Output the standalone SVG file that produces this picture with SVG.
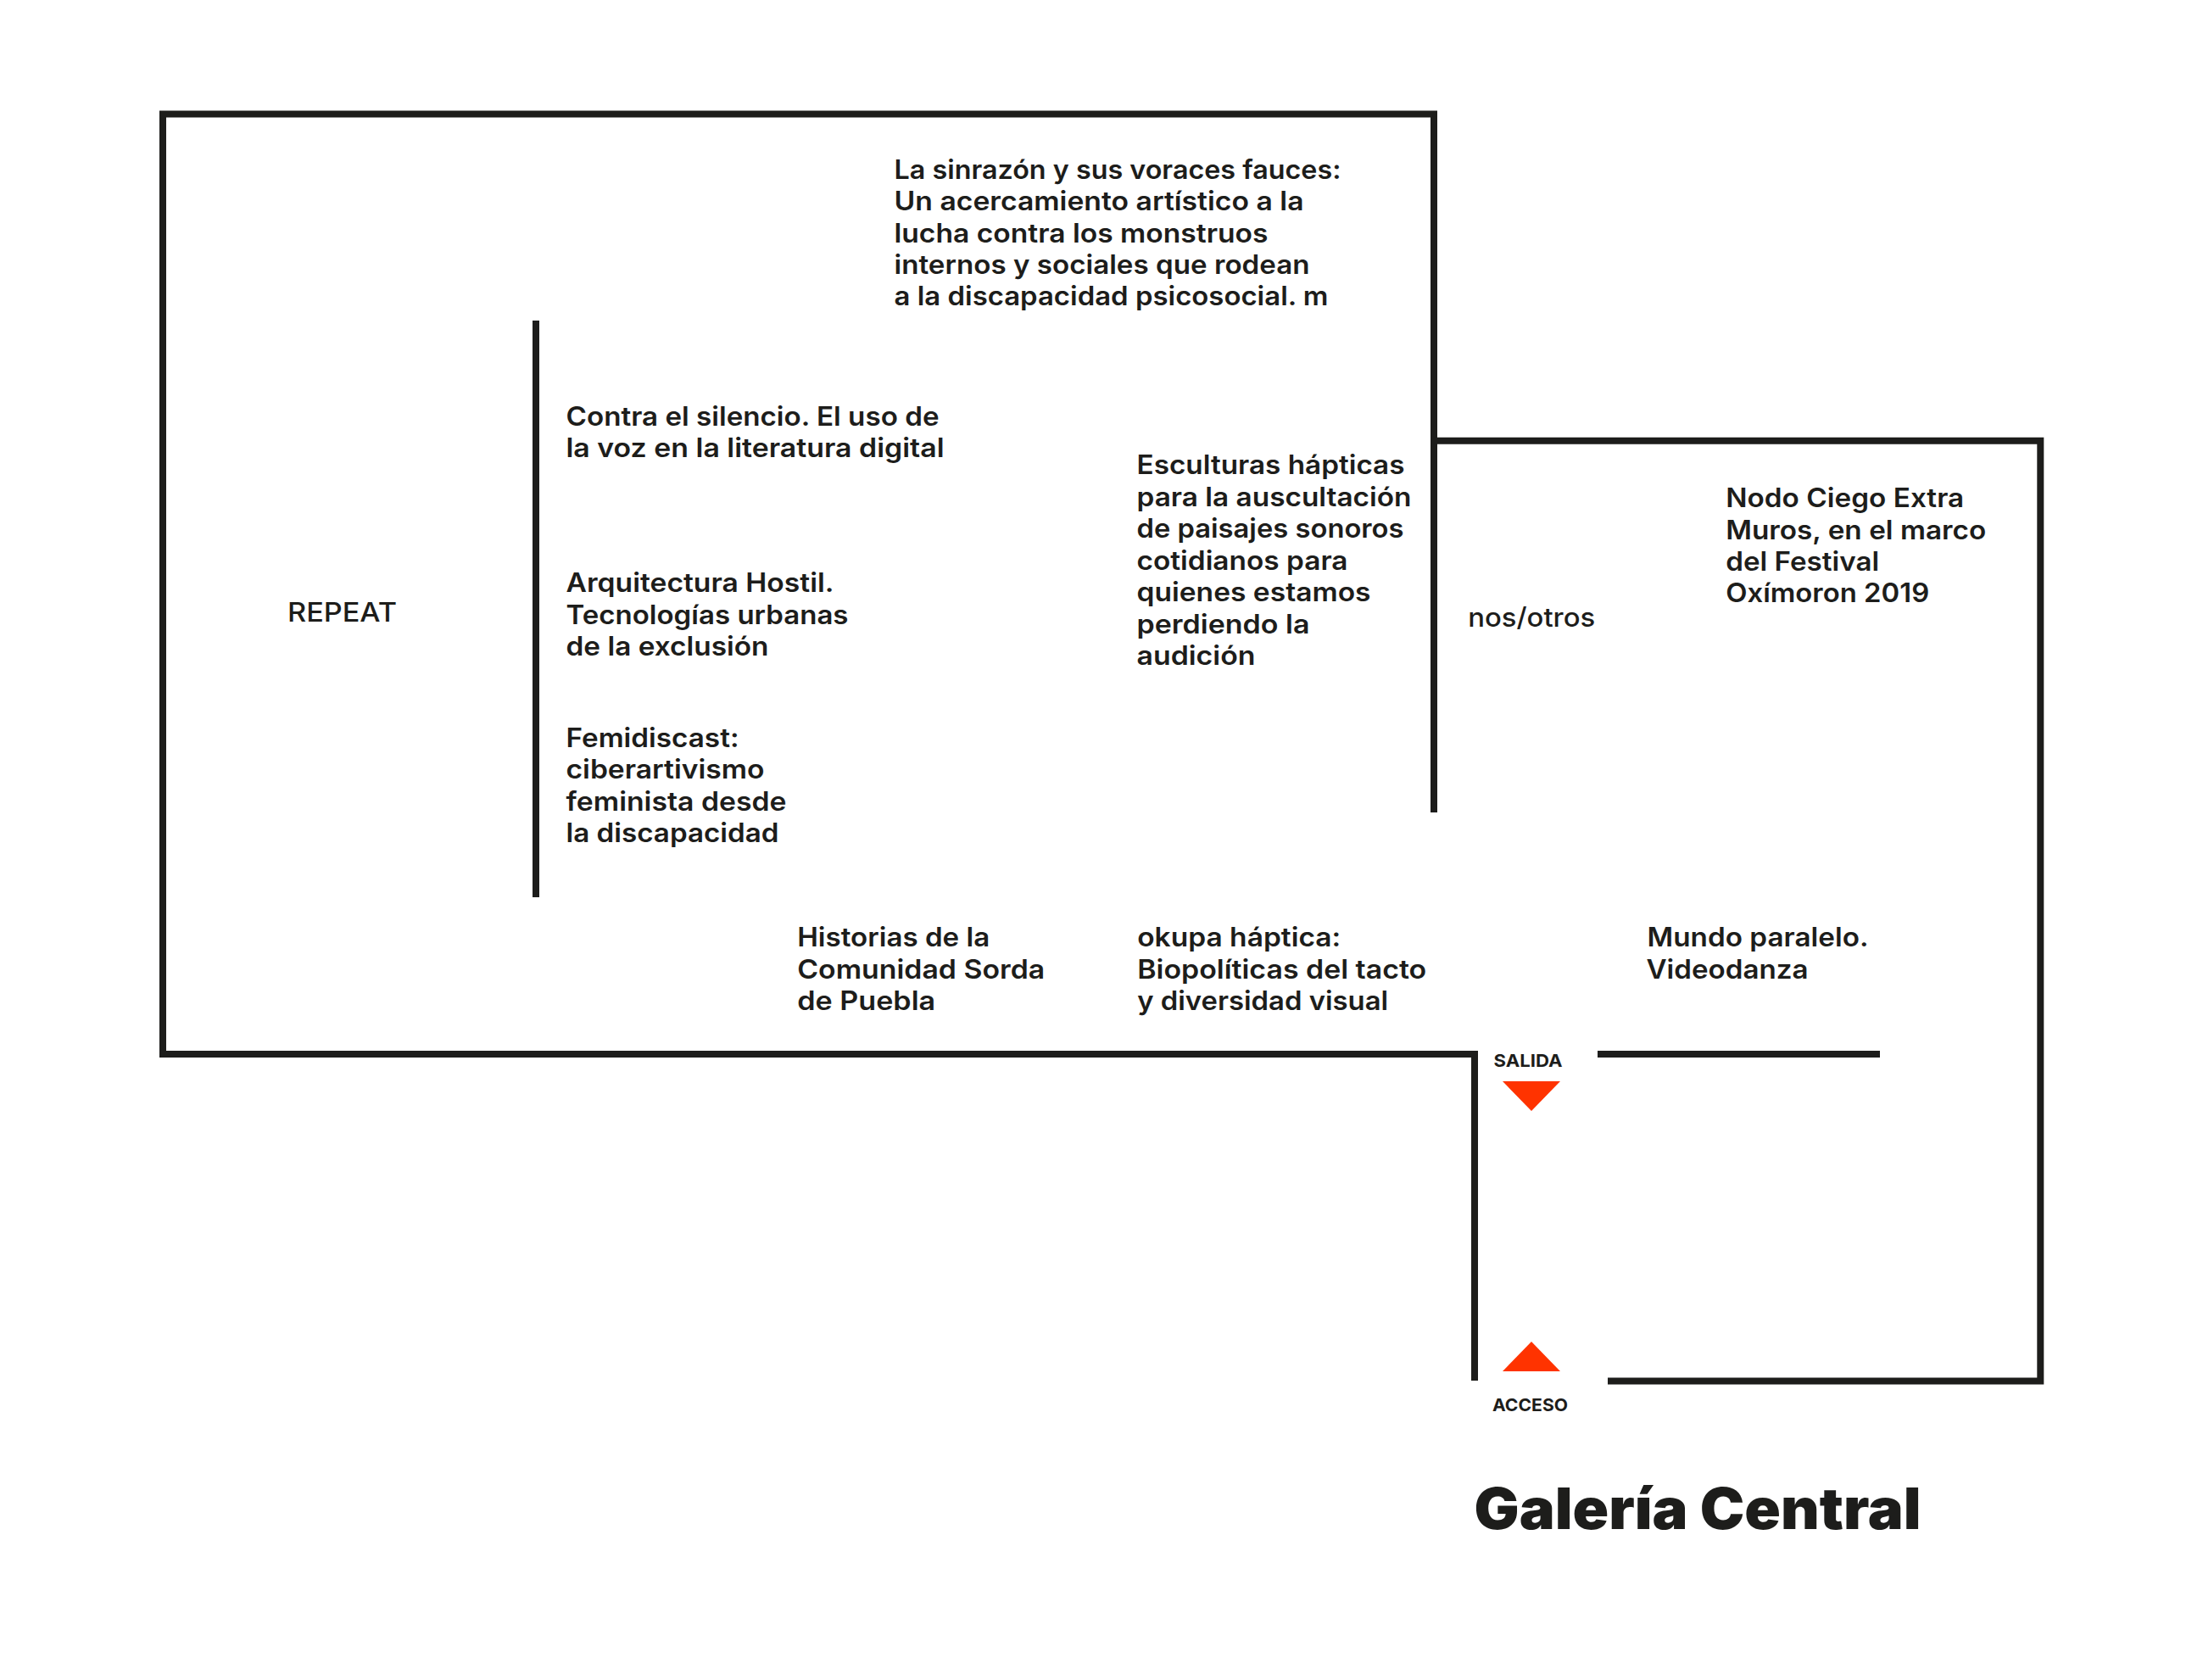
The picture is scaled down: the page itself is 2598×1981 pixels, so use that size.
<svg xmlns="http://www.w3.org/2000/svg" width="2598" height="1981" viewBox="0 0 2598 1981">
<style>
.w{fill:none;stroke:#1d1d1b;stroke-width:8;stroke-linejoin:miter;stroke-linecap:butt}
text{font-family:"Inter","Liberation Sans",sans-serif;fill:#1d1d1b}
.t{font-size:31px;font-weight:600}
.m{font-size:31px;font-weight:500}
.s{font-size:20.5px;font-weight:700}
.h{font-size:67px;font-weight:900}
.a{fill:#ff3300}
</style>
<rect width="2598" height="1981" fill="#ffffff"/>
<g id="walls">
<path class="w" d="M1691,958V134.5H192V1243H1739V1628"/>
<path class="w" d="M1691,519.7H2406.3V1628.5H1896"/>
<path class="w" d="M1884,1243H2217"/>
<path class="w" d="M632,378V1058"/>
</g>
<g id="la-sinrazon">
<text class="t" x="1054.5" y="210.7" textLength="527" lengthAdjust="spacingAndGlyphs">La sinrazón y sus voraces fauces:</text>
<text class="t" x="1054.5" y="248" textLength="483" lengthAdjust="spacingAndGlyphs">Un acercamiento artístico a la</text>
<text class="t" x="1054.5" y="285.8" textLength="441" lengthAdjust="spacingAndGlyphs">lucha contra los monstruos</text>
<text class="t" x="1054.5" y="323" textLength="490" lengthAdjust="spacingAndGlyphs">internos y sociales que rodean</text>
<text class="t" x="1054.5" y="360.4" textLength="512" lengthAdjust="spacingAndGlyphs">a la discapacidad psicosocial. m</text>
</g>
<g id="contra-el-silencio">
<text class="t" x="667.5" y="501.7" textLength="440" lengthAdjust="spacingAndGlyphs">Contra el silencio. El uso de</text>
<text class="t" x="667.5" y="539" textLength="446" lengthAdjust="spacingAndGlyphs">la voz en la literatura digital</text>
</g>
<g id="arquitectura-hostil">
<text class="t" x="667.5" y="698.3" textLength="316" lengthAdjust="spacingAndGlyphs">Arquitectura Hostil.</text>
<text class="t" x="667.5" y="735.7" textLength="333" lengthAdjust="spacingAndGlyphs">Tecnologías urbanas</text>
<text class="t" x="667.5" y="773" textLength="239" lengthAdjust="spacingAndGlyphs">de la exclusión</text>
</g>
<g id="femidiscast">
<text class="t" x="667.5" y="881" textLength="204" lengthAdjust="spacingAndGlyphs">Femidiscast:</text>
<text class="t" x="667.5" y="918.3" textLength="234" lengthAdjust="spacingAndGlyphs">ciberartivismo</text>
<text class="t" x="667.5" y="955.7" textLength="260" lengthAdjust="spacingAndGlyphs">feminista desde</text>
<text class="t" x="667.5" y="993" textLength="251" lengthAdjust="spacingAndGlyphs">la discapacidad</text>
</g>
<g id="esculturas-hapticas">
<text class="t" x="1340.5" y="559.3" textLength="316" lengthAdjust="spacingAndGlyphs">Esculturas hápticas</text>
<text class="t" x="1340.5" y="596.7" textLength="324" lengthAdjust="spacingAndGlyphs">para la auscultación</text>
<text class="t" x="1340.5" y="634.2" textLength="315" lengthAdjust="spacingAndGlyphs">de paisajes sonoros</text>
<text class="t" x="1340.5" y="671.6" textLength="249" lengthAdjust="spacingAndGlyphs">cotidianos para</text>
<text class="t" x="1340.5" y="709" textLength="276" lengthAdjust="spacingAndGlyphs">quienes estamos</text>
<text class="t" x="1340.5" y="746.6" textLength="204" lengthAdjust="spacingAndGlyphs">perdiendo la</text>
<text class="t" x="1340.5" y="783.8" textLength="140" lengthAdjust="spacingAndGlyphs">audición</text>
</g>
<g id="nodo-ciego">
<text class="t" x="2035.2" y="597.7" textLength="281" lengthAdjust="spacingAndGlyphs">Nodo Ciego Extra</text>
<text class="t" x="2035.2" y="635.5" textLength="307" lengthAdjust="spacingAndGlyphs">Muros, en el marco</text>
<text class="t" x="2035.2" y="672.8" textLength="181" lengthAdjust="spacingAndGlyphs">del Festival</text>
<text class="t" x="2035.2" y="710.4" textLength="240" lengthAdjust="spacingAndGlyphs">Oxímoron 2019</text>
</g>
<g id="nos-otros">
<text class="m" x="1731.2" y="739.3" textLength="150" lengthAdjust="spacingAndGlyphs">nos/otros</text>
</g>
<g id="repeat">
<text class="m" x="339" y="733.3" textLength="129" lengthAdjust="spacingAndGlyphs">REPEAT</text>
</g>
<g id="historias">
<text class="t" x="940.2" y="1116" textLength="227" lengthAdjust="spacingAndGlyphs">Historias de la</text>
<text class="t" x="940.2" y="1153.5" textLength="292" lengthAdjust="spacingAndGlyphs">Comunidad Sorda</text>
<text class="t" x="940.2" y="1190.8" textLength="163" lengthAdjust="spacingAndGlyphs">de Puebla</text>
</g>
<g id="okupa-haptica">
<text class="t" x="1341.2" y="1116" textLength="240" lengthAdjust="spacingAndGlyphs">okupa háptica:</text>
<text class="t" x="1341.2" y="1153.5" textLength="341" lengthAdjust="spacingAndGlyphs">Biopolíticas del tacto</text>
<text class="t" x="1341.2" y="1190.8" textLength="296" lengthAdjust="spacingAndGlyphs">y diversidad visual</text>
</g>
<g id="mundo-paralelo">
<text class="t" x="1942.5" y="1116" textLength="261" lengthAdjust="spacingAndGlyphs">Mundo paralelo.</text>
<text class="t" x="1941.5" y="1153.5" textLength="191" lengthAdjust="spacingAndGlyphs">Videodanza</text>
</g>
<g id="salida">
<text class="s" x="1761.5" y="1258.4" textLength="81" lengthAdjust="spacingAndGlyphs">SALIDA</text>
<polygon class="a" points="1772,1275 1840,1275 1806,1310"/>
</g>
<g id="acceso">
<polygon class="a" points="1772,1617 1840,1617 1806,1582"/>
<text class="s" x="1760" y="1664" textLength="89" lengthAdjust="spacingAndGlyphs">ACCESO</text>
</g>
<g id="titulo">
<text class="h" x="1738.5" y="1803" textLength="527" lengthAdjust="spacingAndGlyphs">Galería Central</text>
</g>
</svg>
